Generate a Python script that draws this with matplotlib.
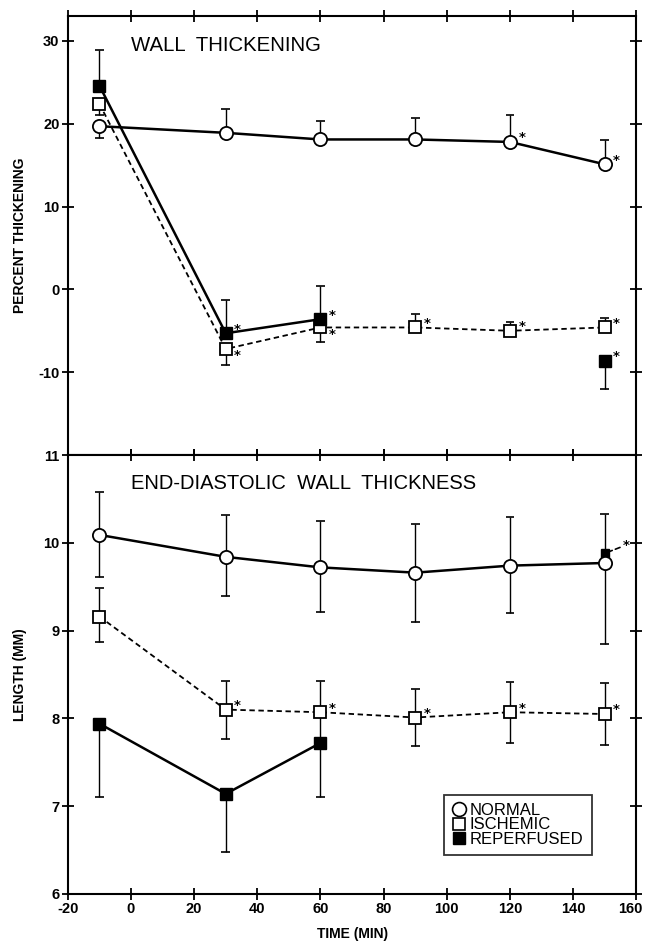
import numpy as np
import matplotlib.pyplot as plt
import matplotlib.transforms as mtransforms
from matplotlib.lines import Line2D

plt.rcParams['font.family'] = ['Liberation Sans', 'DejaVu Sans']
plt.rcParams['axes.unicode_minus'] = False

nan = np.nan

# --- data: wall thickening (top panel)
x_time = [-10, 30, 60, 90, 120, 150]
normal_top = [19.7, 18.9, 18.1, 18.1, 17.8, 15.1]
normal_top_hi = [nan, 21.8, 20.3, 20.7, 21.0, 18.0]
normal_top_lo = [18.3, nan, nan, nan, nan, nan]
ischemic_top = [22.4, -7.2, -4.6, -4.6, -5.0, -4.6]
ischemic_top_hi = [nan, nan, nan, -3.0, -3.9, -3.4]
ischemic_top_lo = [21.0, -9.1, -6.3, nan, nan, nan]
x_reperf = [-10, 30, 60, 150]
reperf_top = [24.6, -5.3, -3.6, -8.6]
reperf_top_hi = [28.9, -1.3, 0.4, nan]
reperf_top_lo = [nan, nan, nan, -12.0]

# --- data: end-diastolic wall thickness (bottom panel)
normal_bot = [10.09, 9.84, 9.72, 9.66, 9.74, 9.77]
normal_bot_hi = [10.58, 10.32, 10.25, 10.21, 10.29, 10.33]
normal_bot_lo = [9.61, 9.39, 9.21, 9.10, 9.20, 8.85]
ischemic_bot = [9.16, 8.10, 8.07, 8.01, 8.07, 8.05]
ischemic_bot_hi = [9.49, 8.43, 8.43, 8.33, 8.42, 8.40]
ischemic_bot_lo = [8.87, 7.77, 7.72, 7.68, 7.72, 7.70]
reperf_bot = [7.94, 7.14, 7.72, 9.88]
reperf_bot_hi = [nan, nan, nan, nan]
reperf_bot_lo = [7.11, 6.48, 7.11, nan]

# significance marks (x positions)
star_normal_top = [120, 150]
star_ischemic_top = [30, 60, 90, 120, 150]
star_reperf_top = [30, 60, 150]
star_ischemic_bot = [30, 60, 90, 120, 150]


def draw_err(ax, x, y, lo, hi, half=1.4):
    x = np.asarray(x, float)
    y = np.asarray(y, float)
    for end in (lo, hi):
        end = np.asarray(end, float)
        m = ~np.isnan(end)
        ax.vlines(x[m], y[m], end[m], color='k', lw=1.0, zorder=2)
        ax.hlines(end[m], x[m] - half, x[m] + half, color='k', lw=1.2, zorder=2)


def stars(ax, xs, ys, marks, dy=3, down=()):
    for xv, yv in zip(xs, ys):
        if xv in marks:
            off = (6, -5) if xv in down else (6, dy)
            ax.annotate('*', (xv, yv), xytext=off, textcoords='offset points',
                        ha='left', va='center', fontsize=9.5, fontweight='bold',
                        family='DejaVu Sans')


fig, (ax1, ax2) = plt.subplots(2, 1, figsize=(6.46, 9.44), dpi=100, sharex=True)
fig.subplots_adjust(left=0.105, right=0.985, top=0.983, bottom=0.053, hspace=0)

ms_c = 9.5
ms_s = 8.5

# top panel
draw_err(ax1, x_time, normal_top, normal_top_lo, normal_top_hi)
draw_err(ax1, x_time, ischemic_top, ischemic_top_lo, ischemic_top_hi)
draw_err(ax1, x_reperf, reperf_top, reperf_top_lo, reperf_top_hi)
ax1.plot(x_time, ischemic_top, ls=(0, (3, 2)), color='k', lw=1.3, marker='s',
         ms=ms_s, mfc='white', mec='k', mew=1.3, zorder=3)
ax1.plot(x_reperf[:3], reperf_top[:3], color='k', lw=1.8, zorder=3)
ax1.plot(x_reperf, reperf_top, ls='none', marker='s', ms=ms_s, mfc='k', mec='k', zorder=4)
ax1.plot(x_time, normal_top, color='k', lw=1.8, marker='o', ms=ms_c, mfc='white',
         mec='k', mew=1.3, zorder=5)
stars(ax1, x_time, normal_top, star_normal_top)
stars(ax1, x_time, ischemic_top, star_ischemic_top, down=(30, 60))
stars(ax1, x_reperf, reperf_top, star_reperf_top)

ax1.text(0, 29.4, 'WALL  THICKENING', fontsize=14.7, va='center', ha='left')
ax1.set_ylim(-20, 33)
ax1.set_yticks([-10, 0, 10, 20, 30])
ax1.set_ylabel('PERCENT THICKENING', fontsize=10, fontweight='bold', labelpad=8)

# bottom panel
draw_err(ax2, x_time, normal_bot, normal_bot_lo, normal_bot_hi)
draw_err(ax2, x_time, ischemic_bot, ischemic_bot_lo, ischemic_bot_hi)
draw_err(ax2, x_reperf, reperf_bot, reperf_bot_lo, reperf_bot_hi)
ax2.plot(x_time, ischemic_bot, ls=(0, (3, 2)), color='k', lw=1.3, marker='s',
         ms=ms_s, mfc='white', mec='k', mew=1.3, zorder=3)
ax2.plot(x_reperf[:3], reperf_bot[:3], color='k', lw=1.8, marker='s', ms=ms_s,
         mfc='k', mec='k', zorder=3)
ax2.plot(x_reperf[3:], reperf_bot[3:], ls='none', marker='s', ms=6, mfc='k', mec='k', zorder=4)
ax2.plot(x_time, normal_bot, color='k', lw=1.8, marker='o', ms=ms_c, mfc='white',
         mec='k', mew=1.3, zorder=5)
stars(ax2, x_time, ischemic_bot, star_ischemic_bot)
ax2.annotate('*', (x_reperf[3], reperf_bot[3]), xytext=(13, 6), textcoords='offset points',
             ha='left', va='center', fontsize=9.5, fontweight='bold', family='DejaVu Sans',
             arrowprops=dict(arrowstyle='-', ls=(0, (3, 2)), lw=1.2, color='k',
                             shrinkA=0, shrinkB=3))

ax2.text(0, 10.67, 'END-DIASTOLIC  WALL  THICKNESS', fontsize=14.5, va='center', ha='left')
ax2.set_ylim(6, 11)
ax2.set_yticks([6, 7, 8, 9, 10, 11])
ax2.set_xlim(-20, 160)
ax2.set_xticks(np.arange(-20, 161, 20))
ax2.set_ylabel('LENGTH (MM)', fontsize=10, fontweight='bold', labelpad=12)
ax2.set_xlabel('TIME (MIN)', fontsize=10, fontweight='bold', labelpad=8)

handles = [
    Line2D([], [], ls='none', marker='o', ms=10, mfc='white', mec='k', mew=1.2),
    Line2D([], [], ls='none', marker='s', ms=9, mfc='white', mec='k', mew=1.2),
    Line2D([], [], ls='none', marker='s', ms=9, mfc='k', mec='k'),
]
leg = ax2.legend(handles, ['NORMAL', 'ISCHEMIC', 'REPERFUSED'], loc='lower left',
                 bbox_to_anchor=(0.662, 0.089), fontsize=12, frameon=True,
                 fancybox=False, edgecolor='k', handlelength=0.8, handletextpad=0.25,
                 labelspacing=-0.05, borderpad=0.5, borderaxespad=0)
leg.get_frame().set_linewidth(1.3)

for ax in (ax1, ax2):
    for s in ax.spines.values():
        s.set_linewidth(1.5)
    ax.tick_params(direction='inout', length=8, width=1.3, top=True, right=True,
                   labelsize=10.5, pad=2)
    for lab in ax.get_yticklabels() + ax.get_xticklabels():
        lab.set_fontweight('bold')

# keep the last x label inside the figure
last = ax2.get_xticklabels()[-1]
last.set_transform(last.get_transform() +
                   mtransforms.ScaledTranslation(-4 / 72, 0, fig.dpi_scale_trans))

plt.savefig('out.png', dpi=100)
